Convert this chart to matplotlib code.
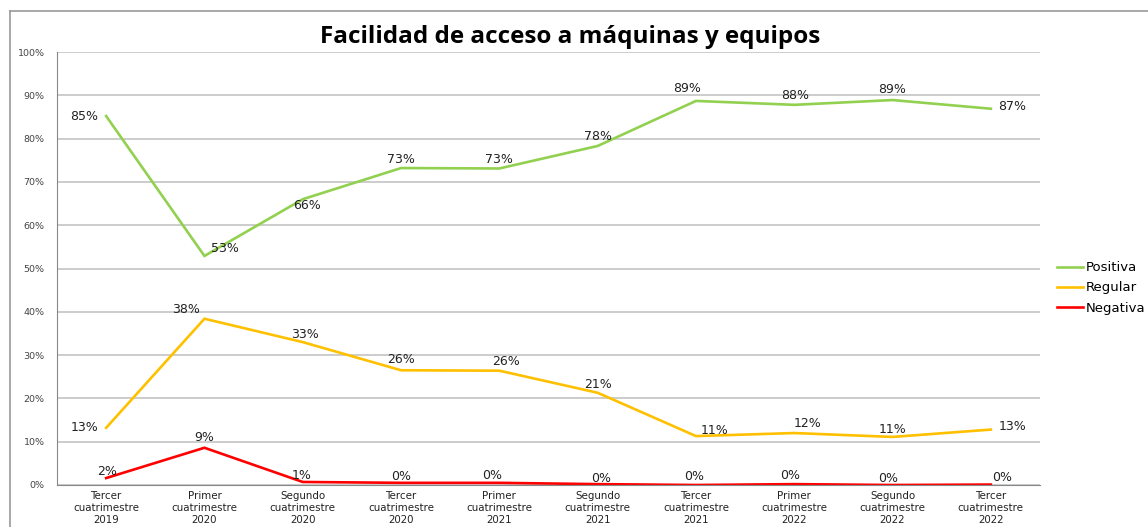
import matplotlib.pyplot as plt
from matplotlib.lines import Line2D

categories = ['Tercer\ncuatrimestre\n2019', 'Primer\ncuatrimestre\n2020',
              'Segundo\ncuatrimestre\n2020', 'Tercer\ncuatrimestre\n2020',
              'Primer\ncuatrimestre\n2021', 'Segundo\ncuatrimestre\n2021',
              'Tercer\ncuatrimestre\n2021', 'Primer\ncuatrimestre\n2022',
              'Segundo\ncuatrimestre\n2022', 'Tercer\ncuatrimestre\n2022']
positiva = [85.2, 52.9, 66.0, 73.2, 73.1, 78.3, 88.7, 87.8, 88.9, 86.9]
regular = [13.2, 38.4, 33.0, 26.5, 26.4, 21.3, 11.3, 12.0, 11.1, 12.8]
negativa = [1.6, 8.6, 0.7, 0.5, 0.5, 0.2, 0.0, 0.2, 0.0, 0.1]

# label offsets in pixels (dx, dy) for each point
off_pos = [(-22, 0), (20, 7), (4, -6), (0, 9), (0, 9), (0, 9), (-9, 12), (1, 9), (0, 11), (21, 2)]
off_reg = [(-22, 0), (-18, 9), (2, 8), (0, 11), (7, 9), (0, 8), (19, 6), (13, 10), (0, 7), (22, 3)]
off_neg = [(1, 7), (0, 10), (-1, 6), (0, 6), (-7, 7), (3, 6), (-2, 8), (-4, 9), (-4, 7), (11, 7)]

fig = plt.figure(figsize=(11.48, 5.27), dpi=100)
ax = fig.add_axes([57 / 1148, 42 / 527, 983 / 1148, 433 / 527])

x = list(range(len(categories)))
series = [('Positiva', positiva, '#92D050', off_pos),
          ('Regular', regular, '#FFC000', off_reg),
          ('Negativa', negativa, '#FF0000', off_neg)]
for name, vals, col, offs in series:
    ax.plot(x, vals, color=col, lw=1.9, label=name, solid_joinstyle='miter')
    for xi, v, (dx, dy) in zip(x, vals, offs):
        ax.annotate('%d%%' % round(v), (xi, v), xytext=(dx * 0.72, dy * 0.72),
                    textcoords='offset points', ha='center', va='center',
                    fontsize=9, color='#222222')

ax.set_xlim(-0.5, 9.5)
ax.set_ylim(0, 100)
ax.set_yticks(range(0, 101, 10))
ax.set_yticklabels(['%d%%' % t for t in range(0, 101, 10)], fontsize=6.8, color='#444444')
ax.set_xticks(x)
ax.set_xticklabels(categories, fontsize=7.4, color='#222222', linespacing=1.3)
ax.tick_params(axis='y', length=0, pad=9)
ax.tick_params(axis='x', length=0, pad=4)
ax.grid(axis='y', color='#C4C4C4', lw=1.2)
ax.set_axisbelow(True)
for s in ['top', 'right']:
    ax.spines[s].set_visible(False)
ax.spines['left'].set_color('#888888')
ax.spines['bottom'].set_color('#888888')

fig.text(570 / 1148, 1 - 37 / 527, 'Facilidad de acceso a máquinas y equipos',
         ha='center', va='center', fontsize=17.5, fontweight='bold',
         family='Open Sans')

fig.add_artist(Line2D([10 / 1148, 1], [1 - 11 / 527, 1 - 11 / 527], color='#999999', lw=1.2))
fig.add_artist(Line2D([10 / 1148, 10 / 1148], [0, 1 - 11 / 527], color='#999999', lw=1.2))

fig.legend(loc='center left', bbox_to_anchor=(1057 / 1148, 1 - 288 / 527), frameon=False,
           fontsize=9.5, handlelength=2.0, handletextpad=0.2, labelspacing=0.55,
           borderaxespad=0, borderpad=0)

fig.savefig('out.png', dpi=100)
